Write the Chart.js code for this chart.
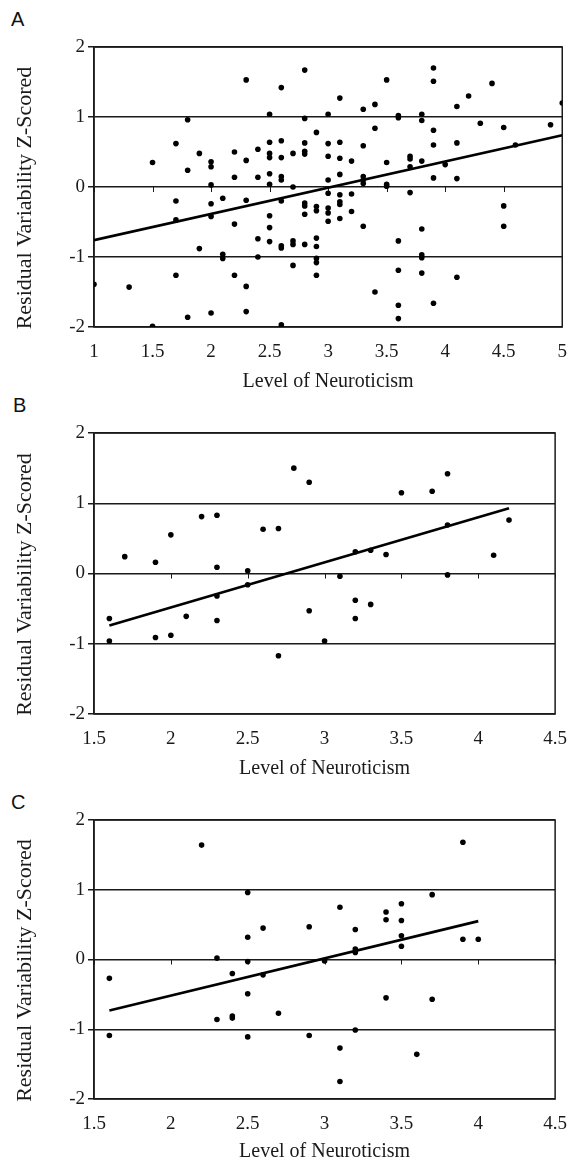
<!DOCTYPE html>
<html>
<head>
<meta charset="utf-8">
<script src="https://cdn.jsdelivr.net/npm/chart.js@4.4.1/dist/chart.umd.min.js"></script>
<style>
  html, body { margin:0; padding:0; background:#fff; overflow:hidden; }
  body { width:581px; height:1164px; position:relative; }
  .panel { position:absolute; left:0; width:581px; }
  .letter { position:absolute; font-family:"Liberation Sans", Arial, sans-serif; font-size:20px; line-height:20px; color:#111; }
</style>
</head>
<body>
<div class="letter" style="left:11px; top:9px;">A</div>
<div class="letter" style="left:13px; top:395px;">B</div>
<div class="letter" style="left:11px; top:792px;">C</div>
<div class="panel" style="top:0px; height:394px;"><canvas id="cA" width="581" height="394"></canvas></div>
<div class="panel" style="top:393px; height:388px;"><canvas id="cB" width="581" height="388"></canvas></div>
<div class="panel" style="top:780px; height:384px;"><canvas id="cC" width="581" height="384"></canvas></div>
<script>
// ---------- Data ----------
const xTitle = 'Level of Neuroticism';
const yTitle = 'Residual Variability Z-Scored';
const yTicks = [-2, -1, 0, 1, 2];

// Panel A
const aX = [2.8,2.3,2.6,2.5,1.8,2.8,2.9,1.7,1.9,2.2,2.4,2.5,2.5,2.5,2.6,2.6,2.7,2.8,2.8,2.8,
            1.5,2.0,2.0,1.8,2.3,2.2,2.4,2.5,2.6,2.6,2.5,2.0,2.7,1.7,2.0,2.1,2.3,2.6,2.8,2.8,
            2.8,2.9,2.9,1.7,2.0,2.2,2.5,2.5,2.4,2.5,2.6,2.6,2.7,2.7,2.8,2.9,2.9,1.9,2.1,2.1,
            2.4,2.9,2.9,2.7,1.7,2.2,2.9,1.0,1.3,2.3,1.8,2.0,2.3,1.5,2.6,
            3.9,3.9,3.5,4.4,3.1,4.2,3.4,3.3,4.1,5.0,3.0,3.6,3.6,3.8,3.8,4.3,4.5,4.9,3.4,3.9,
            3.0,3.1,3.3,3.9,4.1,4.6,3.0,3.1,3.2,3.5,3.7,3.7,3.8,3.7,4.0,3.0,3.1,3.3,3.3,3.3,
            3.9,4.1,3.5,3.5,3.7,3.0,3.1,3.2,3.1,3.1,3.0,3.0,3.2,3.1,3.0,4.5,4.5,3.3,3.8,3.6,
            3.8,3.8,3.6,3.8,4.1,3.4,3.9,3.6,3.6];
const aY = [1.67,1.53,1.42,1.04,0.96,0.98,0.78,0.62,0.48,0.50,0.54,0.64,0.48,0.42,0.66,0.42,0.48,0.63,0.51,0.47,
            0.35,0.36,0.29,0.24,0.38,0.14,0.14,0.19,0.15,0.10,0.04,0.03,0.00,-0.20,-0.24,-0.16,-0.19,-0.20,-0.23,-0.27,
            -0.39,-0.28,-0.34,-0.47,-0.42,-0.53,-0.41,-0.58,-0.74,-0.78,-0.84,-0.87,-0.77,-0.82,-0.82,-0.73,-0.85,-0.88,-0.96,-1.02,
            -1.00,-1.02,-1.08,-1.12,-1.26,-1.26,-1.26,-1.39,-1.43,-1.42,-1.86,-1.80,-1.78,-1.99,-1.97,
            1.70,1.51,1.53,1.48,1.27,1.30,1.18,1.11,1.15,1.20,1.04,1.02,0.99,1.04,0.95,0.91,0.85,0.89,0.84,0.81,
            0.62,0.64,0.59,0.60,0.63,0.60,0.44,0.41,0.37,0.35,0.44,0.40,0.37,0.29,0.32,0.10,0.18,0.15,0.10,0.05,
            0.13,0.12,0.04,0.01,-0.08,-0.09,-0.11,-0.10,-0.21,-0.25,-0.30,-0.37,-0.35,-0.45,-0.49,-0.27,-0.56,-0.56,-0.60,-0.77,
            -0.97,-1.01,-1.19,-1.23,-1.29,-1.50,-1.66,-1.69,-1.88];
const aLineX = [1.0, 5.0];
const aLineY = [-0.76, 0.74];
const aXTicks = [1, 1.5, 2, 2.5, 3, 3.5, 4, 4.5, 5];

// Panel B
const bX = [2.8,2.9,2.2,2.3,2.0,2.6,2.7,1.7,1.9,2.3,2.5,2.5,2.3,2.1,2.3,1.6,1.6,1.9,2.0,2.7,2.9,3.0,
            3.8,3.5,3.7,4.2,3.8,3.2,3.3,3.4,4.1,3.1,3.8,3.2,3.3,3.2];
const bY = [1.50,1.30,0.81,0.83,0.55,0.63,0.64,0.24,0.16,0.09,0.04,-0.16,-0.32,-0.61,-0.67,-0.64,-0.96,-0.91,-0.88,-1.17,-0.53,-0.96,
            1.42,1.15,1.17,0.76,0.69,0.31,0.33,0.27,0.26,-0.04,-0.02,-0.38,-0.44,-0.64];
const bLineX = [1.6, 4.2];
const bLineY = [-0.74, 0.93];
const bcXTicks = [1.5, 2, 2.5, 3, 3.5, 4, 4.5];

// Panel C
const cX = [2.2,2.5,2.6,2.5,2.9,2.3,2.5,1.6,2.4,2.6,2.5,2.7,2.3,2.4,2.4,1.6,2.5,2.9,3.0,
            3.9,3.7,3.1,3.5,3.4,3.4,3.5,3.2,3.5,3.5,3.9,4.0,3.2,3.2,3.4,3.7,3.2,3.1,3.6,3.1];
const cY = [1.64,0.96,0.45,0.32,0.47,0.02,-0.03,-0.27,-0.20,-0.22,-0.49,-0.77,-0.86,-0.81,-0.84,-1.09,-1.11,-1.09,-0.02,
            1.68,0.93,0.75,0.80,0.68,0.57,0.56,0.43,0.34,0.19,0.29,0.29,0.15,0.10,-0.55,-0.57,-1.01,-1.27,-1.36,-1.75];
const cLineX = [1.6, 4.0];
const cLineY = [-0.73, 0.55];

// ---------- Drawing ----------
const SERIF = '"Liberation Serif", "Times New Roman", serif';
const TICK_FONT = { family: SERIF, size: 19 };
const XT_FONT = { family: SERIF, size: 20 };
const YT_FONT = { family: SERIF, size: 22 };
const INK = '#1a1a1a';

const framePlugin = {
  id: 'frame',
  beforeDatasetsDraw(chart) {
    const { ctx, chartArea: a, scales } = chart;
    ctx.save();
    ctx.strokeStyle = INK;
    ctx.lineWidth = 1.5;
    ctx.strokeRect(a.left, a.top, a.right - a.left, a.bottom - a.top);
    // small tick marks of the x axis, where it crosses y = 0
    const y0 = scales.y.getPixelForValue(0);
    ctx.lineWidth = 1;
    ctx.beginPath();
    scales.x.ticks.forEach(t => {
      const px = Math.round(scales.x.getPixelForValue(t.value)) + 0.5;
      ctx.moveTo(px, y0);
      ctx.lineTo(px, y0 + 5);
    });
    ctx.stroke();
    ctx.restore();
  },
  afterDraw(chart) {
    // vertical axis title, sitting slightly below the plot centre as in the original
    const { ctx, chartArea: a } = chart;
    ctx.save();
    ctx.translate(25, (a.top + a.bottom) / 2 + 11);
    ctx.rotate(-Math.PI / 2);
    ctx.font = YT_FONT.size + 'px ' + YT_FONT.family;
    ctx.fillStyle = INK;
    ctx.textAlign = 'center';
    ctx.textBaseline = 'middle';
    ctx.fillText(yTitle, 0, 0);
    ctx.restore();
  }
};

function pts(xs, ys) { return xs.map((x, i) => ({ x: x, y: ys[i] })); }

function makeChart(id, xs, ys, lx, ly, xTicks, topPad, xAxisH) {
  const xMin = xTicks[0], xMax = xTicks[xTicks.length - 1];
  new Chart(document.getElementById(id), {
    type: 'scatter',
    data: {
      datasets: [
        { data: pts(xs, ys), pointRadius: 2.8, pointHoverRadius: 2.8, pointBackgroundColor: '#000',
          pointBorderWidth: 0, showLine: false, order: 2 },
        { type: 'line', data: pts(lx, ly), borderColor: '#000', borderWidth: 2.6, pointRadius: 0,
          fill: false, tension: 0, order: 1 }
      ]
    },
    options: {
      responsive: false,
      animation: false,
      events: [],
      layout: { padding: { top: topPad, right: 14, left: 0, bottom: 0 } },
      plugins: { legend: { display: false }, tooltip: { enabled: false } },
      scales: {
        x: {
          type: 'linear', min: xMin, max: xMax,
          afterBuildTicks: s => { s.ticks = xTicks.map(v => ({ value: v })); },
          ticks: { font: TICK_FONT, color: INK, padding: 14, maxRotation: 0, autoSkip: false,
                   callback: v => String(Number(v)) },
          grid: { display: false, drawTicks: false },
          border: { display: false },
          title: { display: true, text: xTitle, font: XT_FONT, color: INK, padding: 0 },
          afterFit: s => { s.height = xAxisH; }
        },
        y: {
          type: 'linear', min: -2, max: 2,
          afterBuildTicks: s => { s.ticks = yTicks.map(v => ({ value: v })); },
          ticks: { font: TICK_FONT, color: INK, padding: 3, callback: v => String(Number(v)) },
          grid: { color: INK, lineWidth: 1.5, tickLength: 6, drawTicks: true },
          border: { display: true, color: INK, width: 1.5 },
          title: { display: false, text: yTitle },
          afterFit: s => { s.width = 94; }
        }
      }
    },
    plugins: [framePlugin]
  });
}

makeChart('cA', aX, aY, aLineX, aLineY, aXTicks, 47, 67);
makeChart('cB', bX, bY, bLineX, bLineY, bcXTicks, 40, 67);
makeChart('cC', cX, cY, cLineX, cLineY, bcXTicks, 40, 65);
</script>
</body>
</html>
